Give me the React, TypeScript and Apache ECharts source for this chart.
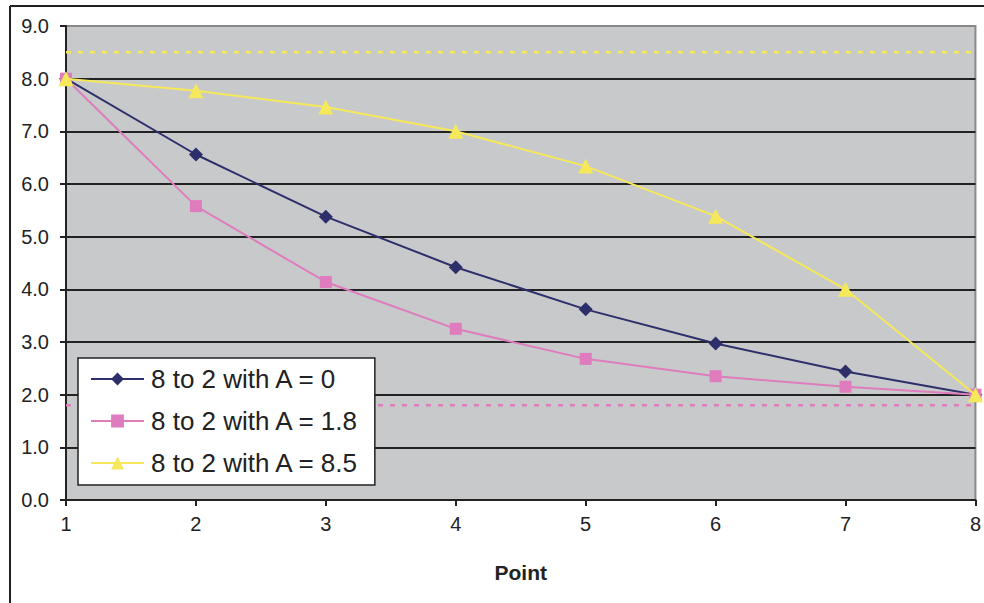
import React, { useEffect, useRef } from "react";
import * as echarts from "echarts";

const points = [1, 2, 3, 4, 5, 6, 7, 8];
const seriesA0 = [8.0, 6.56, 5.38, 4.42, 3.62, 2.97, 2.44, 2.0];
const seriesA18 = [8.0, 5.58, 4.14, 3.25, 2.68, 2.35, 2.15, 2.0];
const seriesA85 = [8.0, 7.77, 7.46, 7.0, 6.34, 5.39, 4.0, 2.0];
const names = ["8 to 2 with A = 0", "8 to 2 with A = 1.8", "8 to 2 with A = 8.5"];
const asymptoteYellow = 8.5;
const asymptotePink = 1.8;

const FONT = "'Liberation Sans', Arial, sans-serif";

export default function App() {
  const ref = useRef<HTMLDivElement>(null);
  useEffect(() => {
    if (!ref.current) return;
    const chart = echarts.init(ref.current, undefined, { renderer: "svg" });
    const pair = (arr: number[]) => arr.map((v, i) => [points[i], v]);
    const gridColors = ["#222", "#222", "#222", "#222", "#222", "#222", "#222", "#222", "#222", "#888"];
    chart.setOption({
      animation: false,
      textStyle: { fontFamily: FONT },
      grid: {
        left: 66,
        right: 8,
        top: 26,
        bottom: 103,
        show: true,
        backgroundColor: "#c8c9cb",
        borderColor: "#8a8a8a",
        borderWidth: 2,
      },
      graphic: [
        { type: "line", shape: { x1: 10, y1: 6, x2: 984, y2: 6 }, style: { stroke: "#231f20", lineWidth: 2 } },
        { type: "line", shape: { x1: 10, y1: 6, x2: 10, y2: 603 }, style: { stroke: "#231f20", lineWidth: 2 } },
      ],
      xAxis: {
        type: "value",
        min: 1,
        max: 8,
        interval: 1,
        name: "Point",
        nameLocation: "middle",
        nameGap: 62,
        nameTextStyle: { fontSize: 21, fontWeight: "bold", color: "#222", fontFamily: FONT },
        axisLine: { show: true, lineStyle: { color: "#222", width: 2 } },
        axisTick: { show: true, length: 6, lineStyle: { color: "#222", width: 2 } },
        axisLabel: { fontSize: 20, color: "#222", margin: 14, fontFamily: FONT },
        splitLine: { show: false },
      },
      yAxis: {
        type: "value",
        min: 0,
        max: 9,
        interval: 1,
        axisLine: { show: true, lineStyle: { color: "#222", width: 2 } },
        axisTick: { show: true, length: 6, lineStyle: { color: "#222", width: 2 } },
        axisLabel: { fontSize: 20, color: "#222", margin: 17, fontFamily: FONT, formatter: (v: number) => v.toFixed(1) },
        splitLine: { show: true, lineStyle: { color: gridColors, width: 2 } },
      },
      legend: {
        orient: "vertical",
        left: 78,
        top: 358,
        data: names,
        backgroundColor: "#ffffff",
        borderColor: "#222",
        borderWidth: 1.5,
        borderRadius: 0,
        padding: [7, 15, 8, 12],
        itemWidth: 53,
        itemHeight: 16,
        itemGap: 14,
        textStyle: { fontSize: 26, color: "#222", fontFamily: FONT, lineHeight: 28, padding: [0, 0, 0, 2] },
      },
      series: [
        {
          name: "yellowAsym",
          type: "line",
          data: [[1, asymptoteYellow], [7.97, asymptoteYellow]],
          symbol: "none",
          lineStyle: { color: "#f5e85a", width: 2.5, type: [5, 7] },
          silent: true,
          z: 1,
        },
        {
          name: "pinkAsym",
          type: "line",
          data: [[1, asymptotePink], [7.97, asymptotePink]],
          symbol: "none",
          lineStyle: { color: "#df7cbd", width: 2.5, type: [5, 7] },
          silent: true,
          z: 1,
        },
        {
          name: names[0],
          type: "line",
          data: pair(seriesA0),
          symbol: "diamond",
          symbolSize: 14,
          color: "#2d2f6b",
          lineStyle: { color: "#2d2f6b", width: 2 },
          itemStyle: { color: "#2d2f6b" },
          z: 3,
        },
        {
          name: names[1],
          type: "line",
          data: pair(seriesA18),
          symbol: "rect",
          symbolSize: 12,
          color: "#df7cbd",
          lineStyle: { color: "#df7cbd", width: 2 },
          itemStyle: { color: "#df7cbd" },
          z: 4,
        },
        {
          name: names[2],
          type: "line",
          data: pair(seriesA85),
          symbol: "triangle",
          symbolSize: 15,
          color: "#f5e85a",
          lineStyle: { color: "#f5e85a", width: 2 },
          itemStyle: { color: "#f5e85a" },
          z: 5,
        },
      ],
    });
    return () => chart.dispose();
  }, []);
  return <div ref={ref} style={{ width: 984, height: 603, position: "fixed", left: 0, top: 0, background: "#fff" }} />;
}
